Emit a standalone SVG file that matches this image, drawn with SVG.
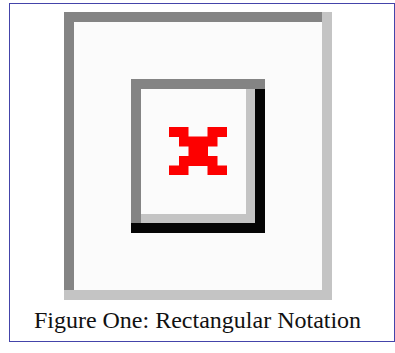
<svg xmlns="http://www.w3.org/2000/svg" width="395" height="353" viewBox="0 0 395 353">
<style>
.dark{fill:#848484}.light{fill:#c4c4c4}.blk{fill:#050505}.red{fill:#fd0000}
.cap{font-family:"Liberation Serif","Times New Roman",serif;font-size:24px;fill:#111}
</style>
<rect x="0" y="0" width="395" height="353" fill="#ffffff"/>
<rect x="9.5" y="3.5" width="385" height="338" fill="none" stroke="#4444aa" stroke-width="1"/>
<g id="outer-box">
<rect x="64" y="12" width="268" height="288" fill="#fbfbfb"/>
<rect class="dark" x="64" y="12" width="258" height="10"/>
<rect class="dark" x="64" y="12" width="10" height="278"/>
<rect class="light" x="322" y="12" width="10" height="288"/>
<rect class="light" x="64" y="290" width="268" height="10"/>
</g>
<g id="inner-box">
<rect x="131" y="79" width="134" height="154" fill="#fbfbfb"/>
<rect class="dark" x="131" y="79" width="134" height="10"/>
<rect class="dark" x="131" y="79" width="10" height="144"/>
<rect class="light" x="246" y="89" width="9" height="134"/>
<rect class="light" x="141" y="214" width="114" height="9"/>
<rect class="blk" x="255" y="89" width="10" height="144"/>
<rect class="blk" x="131" y="223" width="134" height="10"/>
</g>
<g id="red-x">
<rect class="red" x="169" y="127" width="19.5" height="10"/>
<rect class="red" x="207.5" y="127" width="19.5" height="10"/>
<rect class="red" x="179" y="136.5" width="38.5" height="10"/>
<rect class="red" x="188.5" y="146" width="19.5" height="10.5"/>
<rect class="red" x="179" y="156" width="38.5" height="10"/>
<rect class="red" x="169" y="165.5" width="19.5" height="9.5"/>
<rect class="red" x="207.5" y="165.5" width="19.5" height="9.5"/>
</g>
<text class="cap" x="197.5" y="327.5" text-anchor="middle">Figure One: Rectangular Notation</text>
</svg>
